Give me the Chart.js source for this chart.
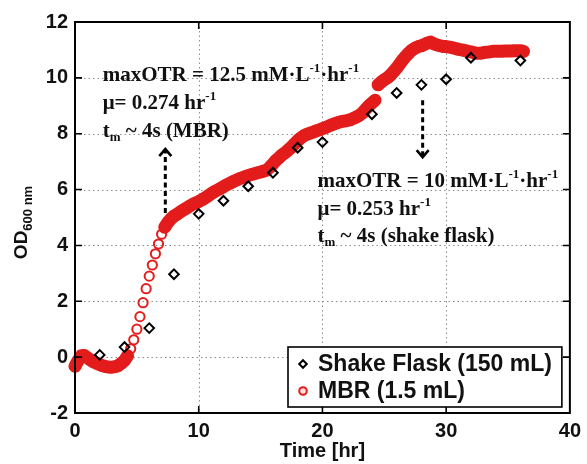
<!DOCTYPE html>
<html><head><meta charset="utf-8">
<script src="https://cdn.jsdelivr.net/npm/chart.js@4.4.1/dist/chart.umd.min.js"></script>
<style>html,body{margin:0;padding:0;background:#fff;}#wrap{width:587px;height:464px;}</style>
</head><body><div id="wrap"><canvas id="c" width="587" height="464"></canvas></div>
<script>
// ---- data ----
const shakeTime = [2, 4, 6, 8, 10, 12, 14, 16, 18, 20, 24, 26, 28, 30, 32, 36];
const shakeOD   = [0.08, 0.36, 1.04, 2.97, 5.13, 5.6, 6.12, 6.6, 7.5, 7.7, 8.7, 9.46, 9.75, 9.95, 10.72, 10.62];

const mbrTime = [
 0, 0.25, 0.5, 0.75, 1, 1.25, 1.5, 1.75, 2, 2.25, 2.5, 2.75, 3, 3.25, 3.5, 3.75,
 4, 4.25, 4.5, 4.75, 5, 5.25, 5.5, 5.75, 6, 6.25, 6.5, 6.75, 7, 7.25, 7.5, 7.75,
 8, 8.25, 8.5, 8.75, 9, 9.25, 9.5, 9.75, 10, 10.25, 10.5, 10.75, 11, 11.25, 11.5, 11.75,
 12, 12.25, 12.5, 12.75, 13, 13.25, 13.5, 13.75, 14, 14.25, 14.5, 14.75, 15, 15.25, 15.5, 15.75,
 16, 16.25, 16.5, 16.75, 17, 17.25, 17.5, 17.75, 18, 18.25, 18.5, 18.75, 19, 19.25, 19.5, 19.75,
 20, 20.25, 20.5, 20.75, 21, 21.25, 21.5, 21.75, 22, 22.25, 22.5, 22.75, 23, 23.25, 23.5, 23.75,
 24, 24.25, 24.5, 24.75, 25, 25.25, 25.5, 25.75, 26, 26.25, 26.5, 26.75, 27, 27.25, 27.5, 27.75,
 28, 28.25, 28.5, 28.75, 29, 29.25, 29.5, 29.75, 30, 30.25, 30.5, 30.75, 31, 31.25, 31.5, 31.75,
 32, 32.25, 32.5, 32.75, 33, 33.25, 33.5, 33.75, 34, 34.25, 34.5, 34.75, 35, 35.25, 35.5, 35.75,
 36, 36.25
];
const mbrOD = [
 -0.33, -0.12, 0.05, 0.06, -0.02, -0.10, -0.17, -0.22, -0.27, -0.31, -0.34, -0.36, -0.36, -0.34, -0.30, -0.22,
 -0.12, 0.05, 0.30, 0.62, 1.00, 1.45, 1.95, 2.45, 2.90, 3.30, 3.70, 4.05, 4.40, 4.65, 4.82, 4.95,
 5.05, 5.12, 5.20, 5.27, 5.33, 5.40, 5.47, 5.52, 5.57, 5.63, 5.70, 5.77, 5.85, 5.92, 5.98, 6.04,
 6.10, 6.17, 6.22, 6.28, 6.33, 6.38, 6.42, 6.46, 6.50, 6.54, 6.57, 6.60, 6.63, 6.66, 6.70, 6.80,
 6.92, 7.05, 7.14, 7.25, 7.33, 7.42, 7.52, 7.64, 7.75, 7.85, 7.93, 7.98, 8.02, 8.06, 8.10, 8.14,
 8.18, 8.22, 8.27, 8.32, 8.36, 8.40, 8.43, 8.45, 8.47, 8.50, 8.55, 8.60, 8.66, 8.75, 8.88, 9.00,
 9.10, 9.20, 9.75, 9.85, 9.93, 10.00, 10.10, 10.22, 10.35, 10.50, 10.65, 10.78, 10.90, 11.00, 11.07, 11.12,
 11.15, 11.20, 11.25, 11.28, 11.22, 11.18, 11.15, 11.12, 11.12, 11.10, 11.08, 11.05, 11.02, 11.00, 10.98, 10.95,
 10.93, 10.90, 10.88, 10.88, 10.90, 10.92, 10.93, 10.95, 10.95, 10.95, 10.95, 10.96, 10.96, 10.96, 10.97, 10.97,
 10.97, 10.95
];

const xTicks = [0, 10, 20, 30, 40];
const yTicks = [-2, 0, 2, 4, 6, 8, 10, 12];
const seriesLabels = ['Shake Flask (150 mL)', 'MBR (1.5 mL)'];
const xTitle = 'Time [hr]';
const yTitleMain = 'OD';
const yTitleSub = '600 nm';

const noteMBR = [
  [['maxOTR = 12.5 mM\u00B7L'], ['-1', 'sup'], ['\u00B7hr'], ['-1', 'sup']],
  [['\u03BC= 0.274 hr'], ['-1', 'sup']],
  [['t'], ['m', 'sub'], [' ~ 4s (MBR)']]
];
const noteSF = [
  [['maxOTR = 10 mM\u00B7L'], ['-1', 'sup'], ['\u00B7hr'], ['-1', 'sup']],
  [['\u03BC= 0.253 hr'], ['-1', 'sup']],
  [['t'], ['m', 'sub'], [' ~ 4s (shake flask)']]
];

// ---- style constants ----
const RED = '#e31c1c';
const SANS = '"Liberation Sans", Arial, sans-serif';
const SERIF = '"Liberation Serif", "Times New Roman", serif';

function drawRich(ctx, x, y, parts, size) {
  let cx = x;
  parts.forEach(p => {
    const kind = p[1];
    const fs = kind ? Math.round(size * 0.62) : size;
    ctx.font = 'bold ' + fs + 'px ' + SERIF;
    const dy = kind === 'sup' ? -size * 0.42 : (kind === 'sub' ? size * 0.2 : 0);
    ctx.fillText(p[0], cx, y + dy);
    cx += ctx.measureText(p[0]).width;
  });
}

function arrow(ctx, x, y0, y1) {
  ctx.save();
  ctx.strokeStyle = '#000';
  ctx.lineWidth = 3;
  ctx.setLineDash([5, 3.5]);
  ctx.beginPath(); ctx.moveTo(x, y0); ctx.lineTo(x, y1); ctx.stroke();
  ctx.setLineDash([]);
  ctx.lineWidth = 2.6;
  const d = y1 < y0 ? 1 : -1;
  ctx.beginPath(); ctx.moveTo(x - 6, y1 + d * 7); ctx.lineTo(x, y1); ctx.lineTo(x + 6, y1 + d * 7); ctx.stroke();
  ctx.restore();
}

const decor = {
  id: 'decor',
  beforeDatasetsDraw(chart) {
    const {ctx, chartArea: a, scales: {x, y}} = chart;
    ctx.save();
    ctx.strokeStyle = '#8c8c8c';
    ctx.lineWidth = 1;
    ctx.setLineDash([1.5, 3]);
    xTicks.slice(1, -1).forEach(v => {
      const px = Math.round(x.getPixelForValue(v)) + 0.5;
      ctx.beginPath(); ctx.moveTo(px, a.top); ctx.lineTo(px, a.bottom); ctx.stroke();
    });
    yTicks.slice(1, -1).forEach(v => {
      const py = Math.round(y.getPixelForValue(v)) + 0.5;
      ctx.beginPath(); ctx.moveTo(a.left, py); ctx.lineTo(a.right, py); ctx.stroke();
    });
    ctx.restore();
  },
  afterDatasetsDraw(chart) {
    const {ctx, chartArea: a, scales: {x, y}} = chart;
    ctx.save();
    ctx.strokeStyle = '#000';
    ctx.lineWidth = 2;
    ctx.strokeRect(a.left, a.top, a.right - a.left, a.bottom - a.top);
    const tl = 7;
    ctx.lineWidth = 1.6;
    xTicks.slice(1, -1).forEach(v => {
      const px = x.getPixelForValue(v);
      ctx.beginPath();
      ctx.moveTo(px, a.bottom); ctx.lineTo(px, a.bottom - tl);
      ctx.moveTo(px, a.top); ctx.lineTo(px, a.top + tl);
      ctx.stroke();
    });
    yTicks.slice(1, -1).forEach(v => {
      const py = y.getPixelForValue(v);
      ctx.beginPath();
      ctx.moveTo(a.left, py); ctx.lineTo(a.left + tl, py);
      ctx.moveTo(a.right, py); ctx.lineTo(a.right - tl, py);
      ctx.stroke();
    });
    arrow(ctx, x.getPixelForValue(7.3), y.getPixelForValue(5.16), y.getPixelForValue(7.45));
    arrow(ctx, x.getPixelForValue(28.1), y.getPixelForValue(9.2), y.getPixelForValue(7.16));
    ctx.fillStyle = '#111';
    ctx.textBaseline = 'alphabetic';
    ctx.textAlign = 'left';
    const fs = 21;
    let bx = x.getPixelForValue(2.24), by = y.getPixelForValue(9.88);
    noteMBR.forEach((ln, i) => drawRich(ctx, bx, by + i * 28, ln, fs));
    bx = x.getPixelForValue(19.6); by = y.getPixelForValue(6.09);
    noteSF.forEach((ln, i) => drawRich(ctx, bx, by + i * 27.5, ln, fs));
    // legend
    const lx = a.left + 213, ly = a.bottom - 66, lw = a.right - 8 - lx, lh = 60;
    ctx.fillStyle = '#fff';
    ctx.fillRect(lx, ly, lw, lh);
    ctx.strokeStyle = '#000';
    ctx.lineWidth = 1.6;
    ctx.strokeRect(lx, ly, lw, lh);
    chart.data.datasets.forEach((ds, i) => {
      const cy = ly + 17 + i * 27;
      ctx.save();
      ctx.strokeStyle = ds.pointBorderColor;
      ctx.fillStyle = ds.pointStyle === 'circle' ? 'rgba(255,200,200,0.6)' : 'rgba(0,0,0,0)';
      ctx.lineWidth = ds.pointBorderWidth;
      Chart.helpers.drawPoint(ctx, {pointStyle: ds.pointStyle, radius: 3.8, borderWidth: ds.pointBorderWidth, rotation: 0}, lx + 15, cy);
      ctx.restore();
      ctx.fillStyle = '#111';
      ctx.font = 'bold 23px ' + SANS;
      ctx.textBaseline = 'middle';
      ctx.fillText(ds.label, lx + 30, cy + 1);
    });
    // y title with subscript
    ctx.translate(22, (a.top + a.bottom) / 2 + 5);
    ctx.rotate(-Math.PI / 2);
    ctx.textBaseline = 'middle';
    ctx.font = 'bold 19px ' + SANS;
    const w1 = ctx.measureText(yTitleMain).width;
    ctx.font = 'bold 13px ' + SANS;
    const w2 = ctx.measureText(yTitleSub).width;
    const sx = -(w1 + w2) / 2;
    ctx.fillStyle = '#111';
    ctx.font = 'bold 19px ' + SANS;
    ctx.fillText(yTitleMain, sx, 0);
    ctx.font = 'bold 13px ' + SANS;
    ctx.fillText(yTitleSub, sx + w1, 6);
    ctx.restore();
  }
};

const tickFont = {family: SANS, size: 20, weight: 'bold'};

new Chart(document.getElementById('c'), {
  type: 'scatter',
  data: {
    datasets: [
      {
        label: seriesLabels[0],
        data: shakeTime.map((t, i) => ({x: t, y: shakeOD[i]})),
        pointStyle: 'rectRot',
        pointRadius: 4.8,
        pointBorderColor: '#000',
        pointBackgroundColor: 'rgba(0,0,0,0)',
        pointBorderWidth: 2,
        borderColor: '#000',
        showLine: false,
        clip: false
      },
      {
        label: seriesLabels[1],
        data: mbrTime.map((t, i) => ({x: t, y: mbrOD[i]})),
        pointStyle: 'circle',
        pointRadius: 4.6,
        pointBorderColor: RED,
        pointBackgroundColor: 'rgba(255,255,255,0)',
        pointBorderWidth: 2,
        showLine: true,
        borderColor: RED,
        borderWidth: 13,
        borderCapStyle: 'round',
        borderJoinStyle: 'round',
        tension: 0,
        segment: {
          borderColor: c => Math.abs(c.p1.parsed.y - c.p0.parsed.y) > 0.22 ? 'rgba(0,0,0,0)' : RED
        },
        clip: false
      }
    ]
  },
  options: {
    responsive: false,
    animation: false,
    devicePixelRatio: 1,
    layout: {padding: {left: 0, right: 12, top: 22, bottom: 0}},
    plugins: {legend: {display: false}, tooltip: {enabled: false}},
    events: [],
    scales: {
      x: {
        type: 'linear', min: 0, max: 40,
        afterBuildTicks: s => { s.ticks = xTicks.map(v => ({value: v})); },
        ticks: {font: tickFont, color: '#111', padding: 6, maxRotation: 0, autoSkip: false},
        grid: {display: false, drawTicks: false},
        border: {display: false},
        title: {display: true, text: xTitle, font: {family: SANS, size: 20, weight: 'bold'}, color: '#111', padding: {top: 0, bottom: 1}},
        afterFit: s => { s.height = 51; }
      },
      y: {
        type: 'linear', min: -2, max: 12,
        afterBuildTicks: s => { s.ticks = yTicks.map(v => ({value: v})); },
        ticks: {font: tickFont, color: '#111', padding: 7, autoSkip: false},
        grid: {display: false, drawTicks: false},
        border: {display: false},
        afterFit: s => { s.width = 75; }
      }
    }
  },
  plugins: [decor]
});
</script>
</body></html>
